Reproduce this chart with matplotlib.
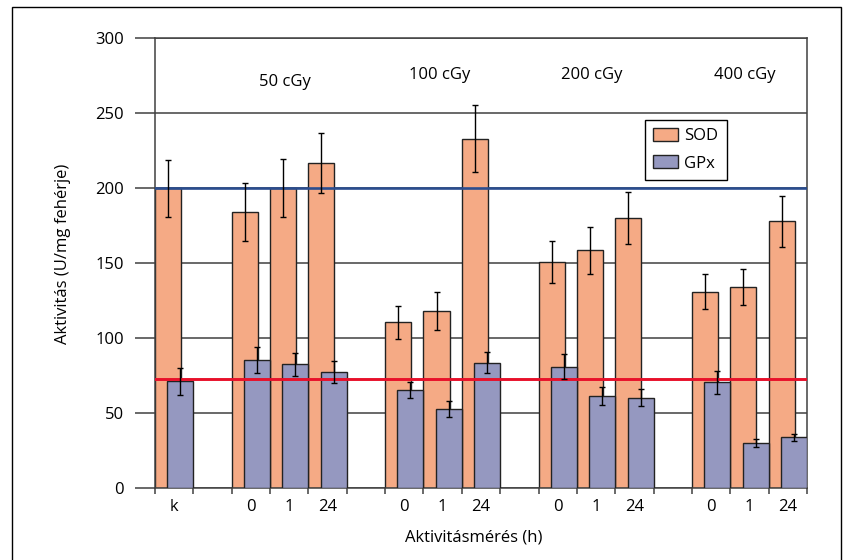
import numpy as np
import matplotlib
matplotlib.use("Agg")
from matplotlib import pyplot as plt
from matplotlib.patches import Rectangle

plt.rcParams['font.family'] = ['Open Sans', 'DejaVu Sans']

# slot labels, blank strings are the empty gaps between dose groups
labels = ["k", "", "0", "1", "24", "", "0", "1", "24", "", "0", "1", "24", "", "0", "1", "24"]
doses = ["50 cGy", "100 cGy", "200 cGy", "400 cGy"]

# nan where there is no bar
sod = [200, np.nan, 184, 200, 217, np.nan, 110.5, 118, 233, np.nan,
       151, 158.5, 180, np.nan, 131, 134, 178]
sod_err = [19, np.nan, 19.5, 19.5, 20, np.nan, 11, 12.5, 22.5, np.nan,
           14, 15.5, 17.5, np.nan, 11.5, 12, 17]
gpx = [71.3, np.nan, 85.3, 82.4, 77.5, np.nan, 65.3, 52.4, 83.6, np.nan,
       80.9, 61.3, 60.2, np.nan, 70.4, 30.2, 33.8]
gpx_err = [9, np.nan, 8.5, 7.5, 7.5, np.nan, 5.5, 5.3, 7, np.nan,
           8.5, 6, 5.8, np.nan, 7.8, 2.8, 2.5]

sod_ref = 200
gpx_ref = 72.4

SOD_COLOR = "#f5aa85"
GPX_COLOR = "#9598c0"
EDGE = "#222222"
GRID = "#404040"


def create_figure():
    fig = plt.figure(figsize=(8.47, 5.60), dpi=100)
    ax = fig.add_axes([155 / 847, 72 / 560, 652 / 847, 450 / 560])
    return fig, ax


def main():
    fig, ax = create_figure()
    x = np.arange(len(labels))
    w = 0.68
    off = 0.16

    ax.bar(x - off, sod, width=w, color=SOD_COLOR, edgecolor=EDGE,
           linewidth=1.0, zorder=2, label="SOD")
    ax.bar(x + off, gpx, width=w, color=GPX_COLOR, edgecolor=EDGE,
           linewidth=1.0, zorder=3, label="GPx")

    ax.axhline(sod_ref, color="#2a4d8f", linewidth=1.9, zorder=4)
    ax.axhline(gpx_ref, color="#e8102a", linewidth=2.1, zorder=4)

    ax.errorbar(x - off, sod, yerr=sod_err, fmt="none", ecolor="black",
                elinewidth=1.0, capsize=2.5, capthick=1.0, zorder=5)
    ax.errorbar(x + off, gpx, yerr=gpx_err, fmt="none", ecolor="black",
                elinewidth=1.0, capsize=2.5, capthick=1.0, zorder=5)

    ax.set_xlim(-0.5, len(labels) - 0.5)
    ax.set_ylim(0, 300)
    ax.set_yticks(np.arange(0, 301, 50))
    ax.yaxis.grid(True, color=GRID, linewidth=1.1, zorder=0)
    ax.set_axisbelow(True)

    ax.set_xticks(x)
    ax.set_xticklabels(labels)
    ax.set_xticks(np.arange(-0.5, len(labels)), minor=True)
    ax.tick_params(axis="x", which="major", length=0, pad=8, labelsize=12)
    ax.tick_params(axis="x", which="minor", length=4.5, width=1.1,
                   color=GRID, direction="out")
    ax.tick_params(axis="y", length=14.4, width=1.1, color=GRID, pad=8,
                   labelsize=12)

    for s in ax.spines.values():
        s.set_color(GRID)
        s.set_linewidth(1.1)

    # dose labels above each group
    ax.text(2.9, 270.7, doses[0], ha="center", va="center", fontsize=12)
    ax.text(6.93, 275.3, doses[1], ha="center", va="center", fontsize=12)
    ax.text(10.89, 275.3, doses[2], ha="center", va="center", fontsize=12)
    ax.text(14.88, 275.3, doses[3], ha="center", va="center", fontsize=12)

    leg = ax.legend(loc="upper left", bbox_to_anchor=((645 - 155) / 652, (488 - 120) / 450),
                    fancybox=False, framealpha=1, edgecolor="black",
                    fontsize=12, handlelength=1.45, handleheight=0.8,
                    handletextpad=0.4, borderpad=0.5, labelspacing=0.65,
                    borderaxespad=0)
    leg.get_frame().set_linewidth(1.0)
    leg.set_zorder(6)

    fig.text(63 / 847, 1 - 254 / 560, "Aktivitás (U/mg fehérje)", rotation=90,
             ha="center", va="center", fontsize=12)
    fig.text(473.5 / 847, 1 - 538 / 560, "Aktivitásmérés (h)",
             ha="center", va="center", fontsize=12)

    # outer frame
    fig.patches.append(Rectangle((12 / 847, -0.01), 829 / 847, 1.01 - 7 / 560,
                                 transform=fig.transFigure, fill=False,
                                 edgecolor="black", linewidth=1.0))

    fig.savefig("out.png", dpi=100)


if __name__ == "__main__":
    main()
